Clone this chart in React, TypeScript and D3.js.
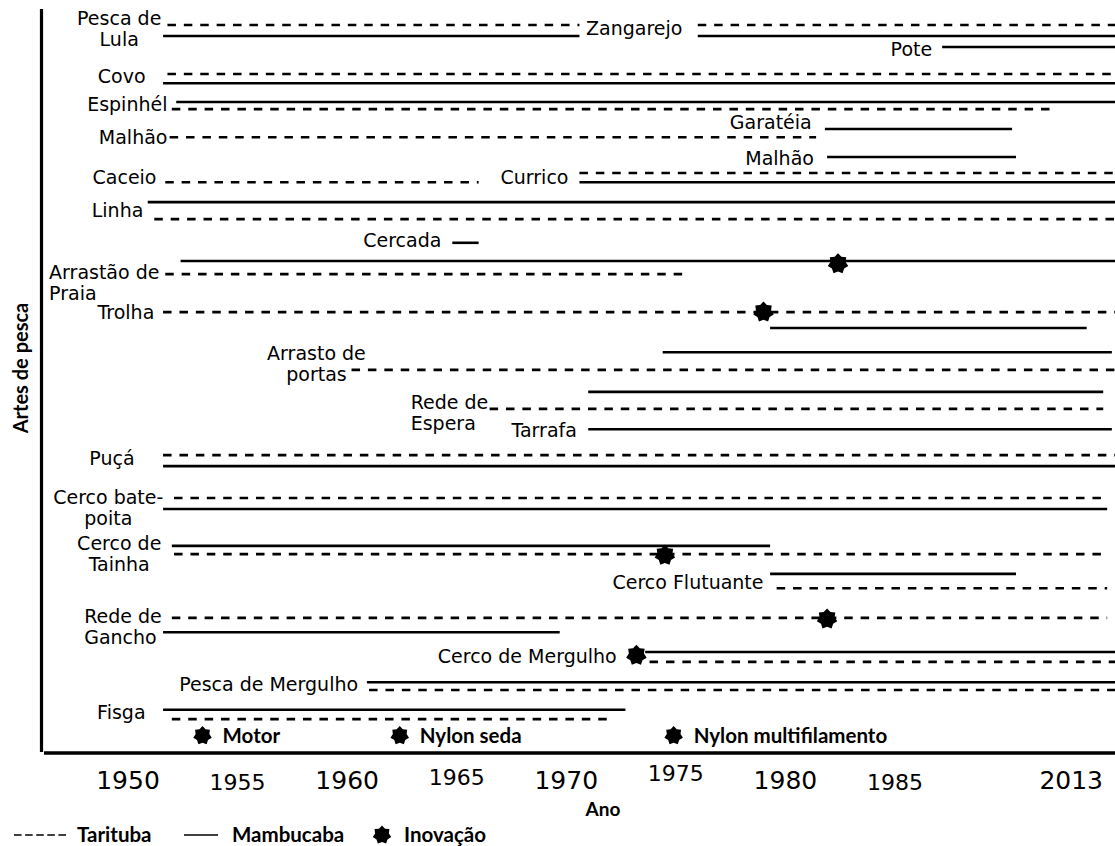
import { useEffect } from "react";
import * as d3 from "d3";

// Timeline of fishing gears (Artes de pesca) in Tarituba (dashed) and Mambucaba (solid)
const tickYears = [1950, 1955, 1960, 1965, 1970, 1975, 1980, 1985, 2013];
const majorTicks = [1950, 1960, 1970, 1980, 2013];

// [gear, start year, end year, lane]
const tarituba: [string, number, number, number][] = [
  ["Pesca de Lula", 1951.8, 1970.6, 0],
  ["Zangarejo", 1976.0, 2013, 0],
  ["Covo", 1951.8, 2013, 4.45],
  ["Espinhél", 1952.0, 2004.9, 7.65],
  ["Malhão", 1951.9, 1981.4, 10.2],
  ["Currico", 1970.6, 2013, 13.45],
  ["Caceio", 1951.7, 1966.0, 14.3],
  ["Linha", 1951.2, 2013, 17.65],
  ["Arrastão de Praia", 1951.7, 1975.6, 22.65],
  ["Trolha", 1951.6, 2013, 26.1],
  ["Arrasto de portas", 1960.2, 2013, 31.35],
  ["Rede de Espera", 1966.5, 2011.5, 34.9],
  ["Puçá", 1951.6, 2013, 39.1],
  ["Cerco bate-poita", 1952.1, 2012.0, 43],
  ["Cerco de Tainha", 1952.1, 2012.0, 48.1],
  ["Cerco Flutuante", 1979.6, 2012.0, 51.2],
  ["Rede de Gancho", 1952.0, 2012.0, 53.9],
  ["Cerco de Mergulho", 1973.8, 2013, 57.9],
  ["Pesca de Mergulho", 1961.0, 2013, 60.45],
  ["Fisga", 1952.0, 1972.2, 63.1],
];

const mambucaba: [string, number, number, number][] = [
  ["Pesca de Lula", 1951.6, 1970.6, 1],
  ["Zangarejo", 1976.0, 2013, 1],
  ["Pote", 1991.0, 2013, 2],
  ["Covo", 1951.6, 2013, 5.3],
  ["Espinhél", 1952.2, 2013, 7],
  ["Garatéia", 1981.8, 1999.9, 9.45],
  ["Malhão", 1981.9, 2000.4, 12],
  ["Currico", 1970.6, 2013, 14.3],
  ["Linha", 1950.9, 2013, 16.1],
  ["Cercada", 1964.8, 1966.0, 19.8],
  ["Arrastão de Praia", 1952.4, 2013, 21.45],
  ["Trolha", 1979.3, 2009.4, 27.55],
  ["Arrasto de portas", 1974.4, 2012.6, 29.75],
  ["Rede de Espera", 1971.0, 2011.5, 33.35],
  ["Tarrafa", 1971.0, 2012.6, 36.75],
  ["Puçá", 1951.6, 2013, 40.1],
  ["Cerco bate-poita", 1951.6, 2012.0, 44],
  ["Cerco de Tainha", 1952.0, 1979.3, 47.35],
  ["Cerco Flutuante", 1979.3, 2000.4, 49.9],
  ["Rede de Gancho", 1951.6, 1969.7, 55.2],
  ["Cerco de Mergulho", 1973.6, 2013, 57],
  ["Pesca de Mergulho", 1960.9, 2013, 59.75],
  ["Fisga", 1951.6, 1972.7, 62.25],
];

// innovation marks on gears: [gear, year, lane]
const innovations: [string, number, number][] = [
  ["Arrastão de Praia", 1982.4, 21.7],
  ["Trolha", 1979.0, 26.1],
  ["Cerco de Tainha", 1974.5, 48.2],
  ["Rede de Gancho", 1981.9, 54],
  ["Cerco de Mergulho", 1973.2, 57.3],
];

// innovation types: [name, year]
const innovationTypes: [string, number][] = [
  ["Motor", 1953.4],
  ["Nylon seda", 1962.4],
  ["Nylon multifilamento", 1974.9],
];

// gear labels: [lines, year, lane, anchor]
const gearLabels: [string[], number, number, string][] = [
  [["Pesca de", "Lula"], 1949.6, -0.6, "middle"],
  [["Zangarejo"], 1970.9, 0.27, "start"],
  [["Pote"], 1984.8, 2.18, "start"],
  [["Covo"], 1950.8, 4.64, "end"],
  [["Espinhél"], 1951.8, 7.18, "end"],
  [["Garatéia"], 1981.2, 8.82, "end"],
  [["Malhão"], 1951.8, 10.18, "end"],
  [["Malhão"], 1981.3, 12.09, "end"],
  [["Caceio"], 1951.3, 13.82, "end"],
  [["Currico"], 1970.1, 13.82, "end"],
  [["Linha"], 1950.7, 16.82, "end"],
  [["Cercada"], 1964.3, 19.55, "end"],
  [["Arrastão de", "Praia"], 1946.4, 22.5, "start"],
  [["Trolha"], 1951.2, 26.09, "end"],
  [["Arrasto de", "portas"], 1958.6, 29.8, "middle"],
  [["Rede de", "Espera"], 1962.9, 34.3, "start"],
  [["Tarrafa"], 1967.5, 36.82, "start"],
  [["Puçá"], 1950.3, 39.36, "end"],
  [["Cerco bate-", "poita"], 1949.1, 42.9, "middle"],
  [["Cerco de", "Tainha"], 1949.6, 47.1, "middle"],
  [["Cerco Flutuante"], 1979.0, 50.64, "end"],
  [["Rede de", "Gancho"], 1948.0, 53.7, "start"],
  [["Cerco de Mergulho"], 1972.3, 57.36, "end"],
  [["Pesca de Mergulho"], 1960.5, 59.91, "end"],
  [["Fisga"], 1950.8, 62.45, "end"],
];

const W = 1115;
const H = 846;
const labelFont = "'DejaVu Sans', Verdana, sans-serif";
const boldFont = "Lato, 'Open Sans', sans-serif";
const dash = "8.5,7.9";

const x = d3.scaleLinear().domain([1950, 1985, 2013]).range([128, 895, 1115]);
const y = d3.scaleLinear().domain([0, 64]).range([25, 729]);

const tickLift: Record<number, number> = { 1955: -2, 1965: 3, 1975: 7, 1985: -2 };

const starPath = (r: number) => {
  const pts: [number, number][] = d3.range(14).map((i) => [
    (i * Math.PI) / 7,
    i % 2 === 0 ? r : r * 0.74,
  ]);
  return d3.lineRadial().curve(d3.curveLinearClosed)(pts) as string;
};

export default function App() {
  useEffect(() => {
    document.body.style.margin = "0";
  }, []);

  const star = starPath(10.5);
  const smallStar = starPath(9.5);

  return (
    <svg width={W} height={H} style={{ display: "block", background: "#fff" }}>
      {/* axes */}
      <line x1={41.5} x2={41.5} y1={9} y2={752} stroke="#000" strokeWidth={3.2} />
      <line x1={44} x2={W} y1={753} y2={753} stroke="#000" strokeWidth={3.6} />

      {/* segments */}
      {tarituba.map(([g, s, e, l], i) => (
        <line key={"t" + i} x1={x(s)} x2={x(e)} y1={y(l)} y2={y(l)} stroke="#000" strokeWidth={2.6} strokeDasharray={dash}>
          <title>{g}</title>
        </line>
      ))}
      {mambucaba.map(([g, s, e, l], i) => (
        <line key={"m" + i} x1={x(s)} x2={x(e)} y1={y(l)} y2={y(l)} stroke="#000" strokeWidth={2.6}>
          <title>{g}</title>
        </line>
      ))}

      {/* innovations */}
      {innovations.map(([g, yr, l], i) => (
        <path key={"s" + i} d={star} transform={`translate(${x(yr)},${y(l)})`} fill="#000">
          <title>{g}</title>
        </path>
      ))}

      {/* gear labels */}
      {gearLabels.map(([lines, yr, l, anchor], i) => (
        <text key={"l" + i} x={x(yr)} y={y(l)} textAnchor={anchor} fontFamily={labelFont} fontSize={19} fill="#000">
          {lines.map((t, j) => (
            <tspan key={j} x={x(yr)} dy={j === 0 ? "0.36em" : 21}>
              {t}
            </tspan>
          ))}
        </text>
      ))}

      {/* innovation types */}
      {innovationTypes.map(([name, yr], i) => (
        <g key={"it" + i} transform={`translate(${x(yr)},${y(64.6)})`}>
          <path d={smallStar} fill="#000" />
          <text x={20} dy="0.36em" fontFamily={boldFont} fontWeight={700} fontSize={20.5}>
            {name}
          </text>
        </g>
      ))}

      {/* x tick labels */}
      {tickYears.map((t) => (
        <text
          key={t}
          x={t === 2013 ? x(t) - 12 : x(t)}
          y={780 - (tickLift[t] || 0)}
          dy="0.36em"
          textAnchor={t === 2013 ? "end" : "middle"}
          fontFamily={labelFont}
          fontSize={majorTicks.includes(t) ? 25 : 22}
        >
          {t}
        </text>
      ))}

      <text x={603} y={809} dy="0.36em" textAnchor="middle" fontFamily={boldFont} fontWeight={700} fontSize={19}>
        Ano
      </text>
      <text transform="translate(21,368) rotate(-90)" dy="0.36em" textAnchor="middle" fontFamily={boldFont} fontWeight={700} fontSize={20}>
        Artes de pesca
      </text>

      {/* legend */}
      <g fontFamily={boldFont} fontWeight={700} fontSize={20.5}>
        <line x1={14} x2={66} y1={835} y2={835} stroke="#000" strokeWidth={1.5} strokeDasharray="7.6,3.5" />
        <text x={77} y={835} dy="0.36em">Tarituba</text>
        <line x1={184} x2={218} y1={835} y2={835} stroke="#000" strokeWidth={1.5} />
        <text x={232} y={835} dy="0.36em">Mambucaba</text>
        <path d={smallStar} transform="translate(382,835)" fill="#000" />
        <text x={404} y={835} dy="0.36em">Inovação</text>
      </g>
    </svg>
  );
}
